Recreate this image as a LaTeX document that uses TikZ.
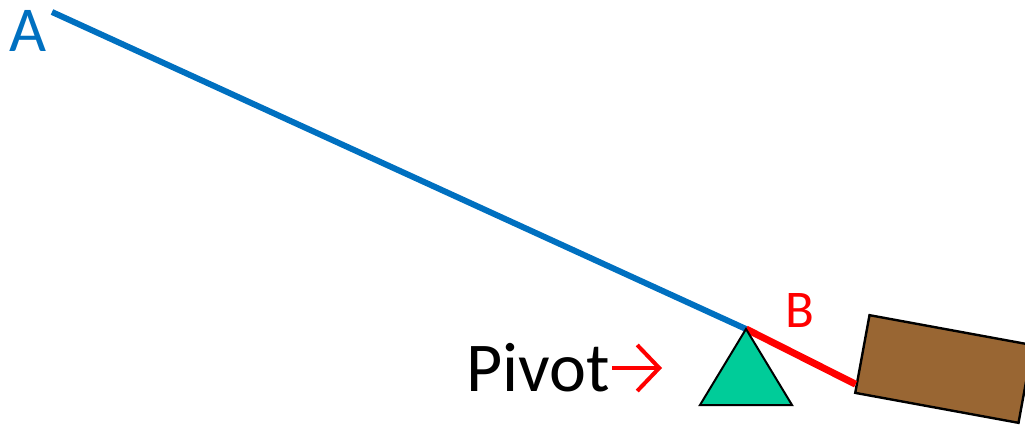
\documentclass[tikz,border=0pt]{standalone}
\usepackage{fontspec}
\setmainfont{Carlito}
\usetikzlibrary{arrows.meta,calc}
\definecolor{beamblue}{HTML}{0070C0}
\definecolor{shortred}{HTML}{FF0000}
\definecolor{pivotgreen}{HTML}{00CC99}
\definecolor{loadbrown}{HTML}{996633}

\begin{document}
\begin{tikzpicture}[x=1pt,y=-1pt,
  lbl/.style={inner sep=0pt,anchor=base}]
\useasboundingbox (0,0) rectangle (1025,425);
\clip (0,0) rectangle (1025,425);
\coordinate (endA) at (52,12);
\coordinate (fulcrum) at (746,329);
\node[draw,fill=loadbrown,line width=2.4pt,minimum width=166pt,minimum height=79pt,
  inner sep=0pt,rotate=-10.4] (load) at (944,369) {};
\coordinate (endB) at ($(load.south west)!0.12!(load.north west)$);
\draw[beamblue,line width=6pt] (endA) -- (fulcrum);
\draw[shortred,line width=7pt] (fulcrum) -- (endB);
\draw[fill=pivotgreen,line width=2pt,line join=miter] (fulcrum) -- (700,405) -- (792,405) -- cycle;
\node[lbl,text=beamblue,font=\fontsize{64}{70}\selectfont] (labA) at (28,52) {A};
\node[lbl,text=shortred,font=\fontsize{53}{60}\selectfont] (labB) at (800,327) {B};
\node[lbl,anchor=base west,font=\fontsize{70}{78}\selectfont] (labpivot) at (466,391) {Pivot};
\coordinate (arrtail) at (612,368);
\coordinate (arrtip) at (662,368);
\draw[shortred,line width=4pt,-{Straight Barb[length=22pt,width=46pt]}] (arrtail) -- (arrtip);
\end{tikzpicture}
\end{document}
